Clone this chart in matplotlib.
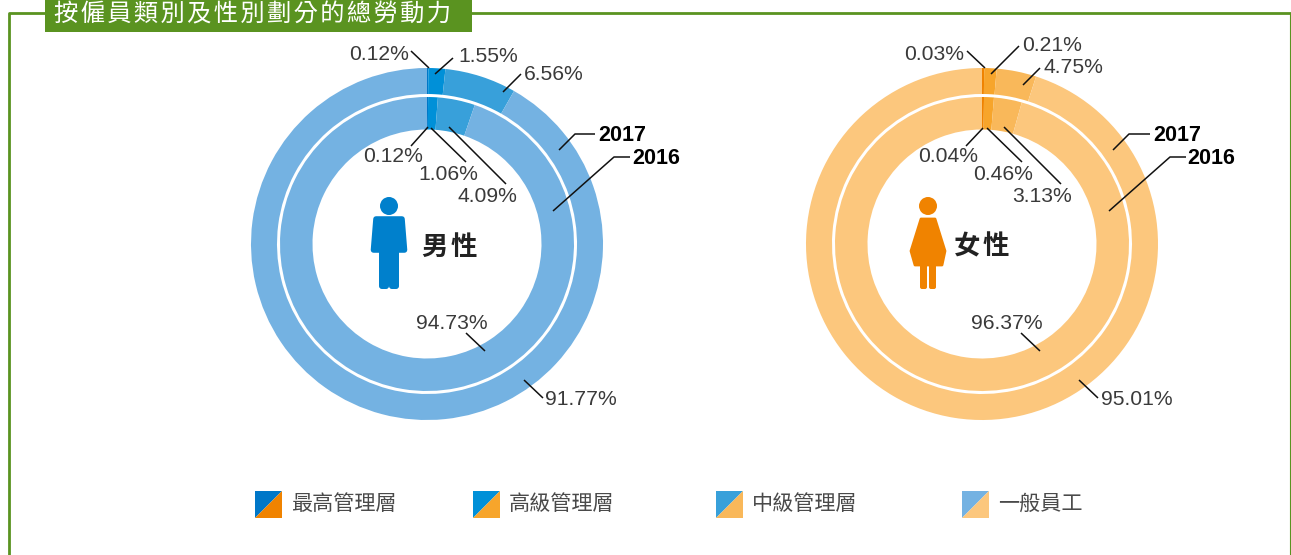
import matplotlib
matplotlib.use("Agg")
from matplotlib import pyplot as plt
from matplotlib.patches import Circle, FancyBboxPatch, Polygon, Rectangle

# Data: clockwise from the top of each ring
categories = ["最高管理層", "高級管理層", "中級管理層", "一般員工"]
male_2017 = [0.12, 1.55, 6.56, 91.77]
male_2016 = [0.12, 1.06, 4.09, 94.73]
female_2017 = [0.03, 0.21, 4.75, 95.01]
female_2016 = [0.04, 0.46, 3.13, 96.37]
# the female rings are not drawn to their printed values, these are the
# shares
female_2017_drawn = [0.20, 1.13, 3.64, 95.03]
female_2016_drawn = [0.22, 1.08, 3.06, 95.64]
years = ["2017", "2016"]

title = "按\u200a僱\u200a員\u200a類\u200a別\u200a及\u200a性\u200a別\u200a劃\u200a分\u200a的\u200a總\u200a勞\u200a動\u200a力"
male_name = "男\u200a性"
female_name = "女\u200a性"

male_colors = ["#0077C8", "#0090D8", "#38A0DA", "#74B2E2"]
female_colors = ["#F08300", "#F7A52B", "#F9B85A", "#FCC77D"]
green = "#5A9320"
grey = "#3A3A3A"

cjk = ["Noto Sans CJK TC", "DejaVu Sans"]
latin = "Liberation Sans"

fig = plt.figure(figsize=(12.91, 5.55), dpi=100)
# one axes over the whole figure, units are pixels, y pointing down
ax = fig.add_axes([0, 0, 1, 1])


def ring(values, colors, cx, cy, r_out, r_in):
    # y axis is inverted so counterclock here looks clockwise on the page
    ax.pie(values, colors=colors, center=(cx, cy), radius=r_out, startangle=-90,
           counterclock=True, frame=True,
           wedgeprops=dict(width=r_out - r_in, linewidth=0))


def leader(xs, ys):
    ax.plot(xs, ys, color="#111111", lw=1.1, solid_capstyle="butt", zorder=5)


def pct(value, x, y):
    ax.text(x, y, "%.2f%%" % value, family=latin, fontsize=15.2, color=grey,
            ha="left", va="baseline", zorder=6)


def year(label, x, y):
    ax.text(x, y, label, family=latin, fontsize=15.5, fontweight="bold",
            color="black", ha="left", va="baseline", zorder=6)


# rings
ring(male_2017, male_colors, 427, 244, 176, 150)
ring(male_2016, male_colors, 427, 244, 147, 114.5)
ring(female_2017_drawn, female_colors, 982, 244, 176, 150)
ring(female_2016_drawn, female_colors, 982, 244, 147, 114.5)

# male labels
pct(male_2017[0], 349, 60)
leader([411, 429], [51, 68])
pct(male_2017[1], 458, 62)
leader([453, 435], [58, 74])
pct(male_2017[2], 524, 80)
leader([521, 503], [74, 92])
pct(male_2017[3], 545, 405)
leader([524, 543], [380, 398])
pct(male_2016[0], 363, 162)
leader([428, 411], [127, 146])
pct(male_2016[1], 418, 180)
leader([431, 466], [128, 162])
pct(male_2016[2], 457, 202)
leader([449, 506], [127, 184])
pct(male_2016[3], 416, 329)
leader([485, 466], [351, 333])
year(years[0], 598, 141)
leader([559, 575, 595], [150, 134, 134])
year(years[1], 632, 164)
leader([553, 614, 630], [211, 157, 157])

# female labels
pct(female_2017[0], 904, 60)
leader([967, 985], [51, 68])
pct(female_2017[1], 1022, 51)
leader([1019, 991], [46, 74])
pct(female_2017[2], 1043, 73)
leader([1040, 1023], [68, 85])
pct(female_2017[3], 1101, 405)
leader([1079, 1098], [380, 398])
pct(female_2016[0], 918, 162)
leader([983, 966], [128, 146])
pct(female_2016[1], 973, 180)
leader([987, 1022], [128, 162])
pct(female_2016[2], 1012, 202)
leader([1004, 1061], [127, 184])
pct(female_2016[3], 971, 329)
leader([1040, 1021], [351, 333])
year(years[0], 1153, 141)
leader([1113, 1129, 1150], [150, 134, 134])
year(years[1], 1187, 164)
leader([1109, 1170, 1186], [211, 157, 157])

# man icon
blue = "#0080CC"
ax.add_patch(Circle((389, 206), 9, color=blue, lw=0))
ax.add_patch(Polygon([[376, 219], [402, 219], [404.5, 250], [373.5, 250]], closed=True,
                     facecolor=blue, edgecolor=blue, lw=4, joinstyle="round"))
ax.add_patch(FancyBboxPatch((382, 245), 4, 41, boxstyle="round,pad=3,rounding_size=3", color=blue, lw=0))
ax.add_patch(FancyBboxPatch((392, 245), 4, 41, boxstyle="round,pad=3,rounding_size=3", color=blue, lw=0))
ax.add_patch(Rectangle((386, 245), 8, 38, color=blue, lw=0))
ax.text(449.5, 247, male_name, family=cjk, fontsize=19, fontweight="bold", color="#222222",
        ha="center", va="center")

# woman icon
orange = female_colors[0]
ax.add_patch(Circle((928, 206), 9, color=orange, lw=0))
ax.add_patch(Polygon([[921, 219], [935, 219], [945, 251], [942, 265], [915, 265], [911, 251]], closed=True,
                     facecolor=orange, edgecolor=orange, lw=2, joinstyle="round"))
ax.add_patch(FancyBboxPatch((922, 262), 3, 25, boxstyle="round,pad=2,rounding_size=2", color=orange, lw=0))
ax.add_patch(FancyBboxPatch((931, 262), 3, 25, boxstyle="round,pad=2,rounding_size=2", color=orange, lw=0))
ax.text(982, 247, female_name, family=cjk, fontsize=19, fontweight="bold", color="#222222",
        ha="center", va="center")

# legend, each square split on the diagonal
for name, c1, c2, x in zip(categories, male_colors, female_colors, [255, 473, 716, 962]):
    ax.add_patch(Polygon([[x, 491], [x + 27, 491], [x, 518]], closed=True, facecolor=c1, lw=0))
    ax.add_patch(Polygon([[x + 27, 491], [x + 27, 518], [x, 518]], closed=True, facecolor=c2, lw=0))
    ax.text(x + 36, 504, name, family=cjk, fontsize=15.2, color="#4A4A4A",
            ha="left", va="center")

# frame and title tab
ax.plot([8.7, 8.7, 1290], [555, 12.5, 12.5], color=green, lw=2, zorder=1)
ax.plot([1290, 1290], [12.5, 555], color=green, lw=0.8, zorder=1)
ax.add_patch(Rectangle((45, 0), 427, 32, facecolor=green, lw=0, zorder=2))
ax.text(253, 14, title, family=cjk, fontsize=17.5, fontweight="medium", color="white",
        ha="center", va="center", zorder=3)

ax.set_xlim(0, 1291)
ax.set_ylim(555, 0)
ax.set_aspect("auto")
ax.axis("off")

plt.savefig("out.png", dpi=100, facecolor="white")
